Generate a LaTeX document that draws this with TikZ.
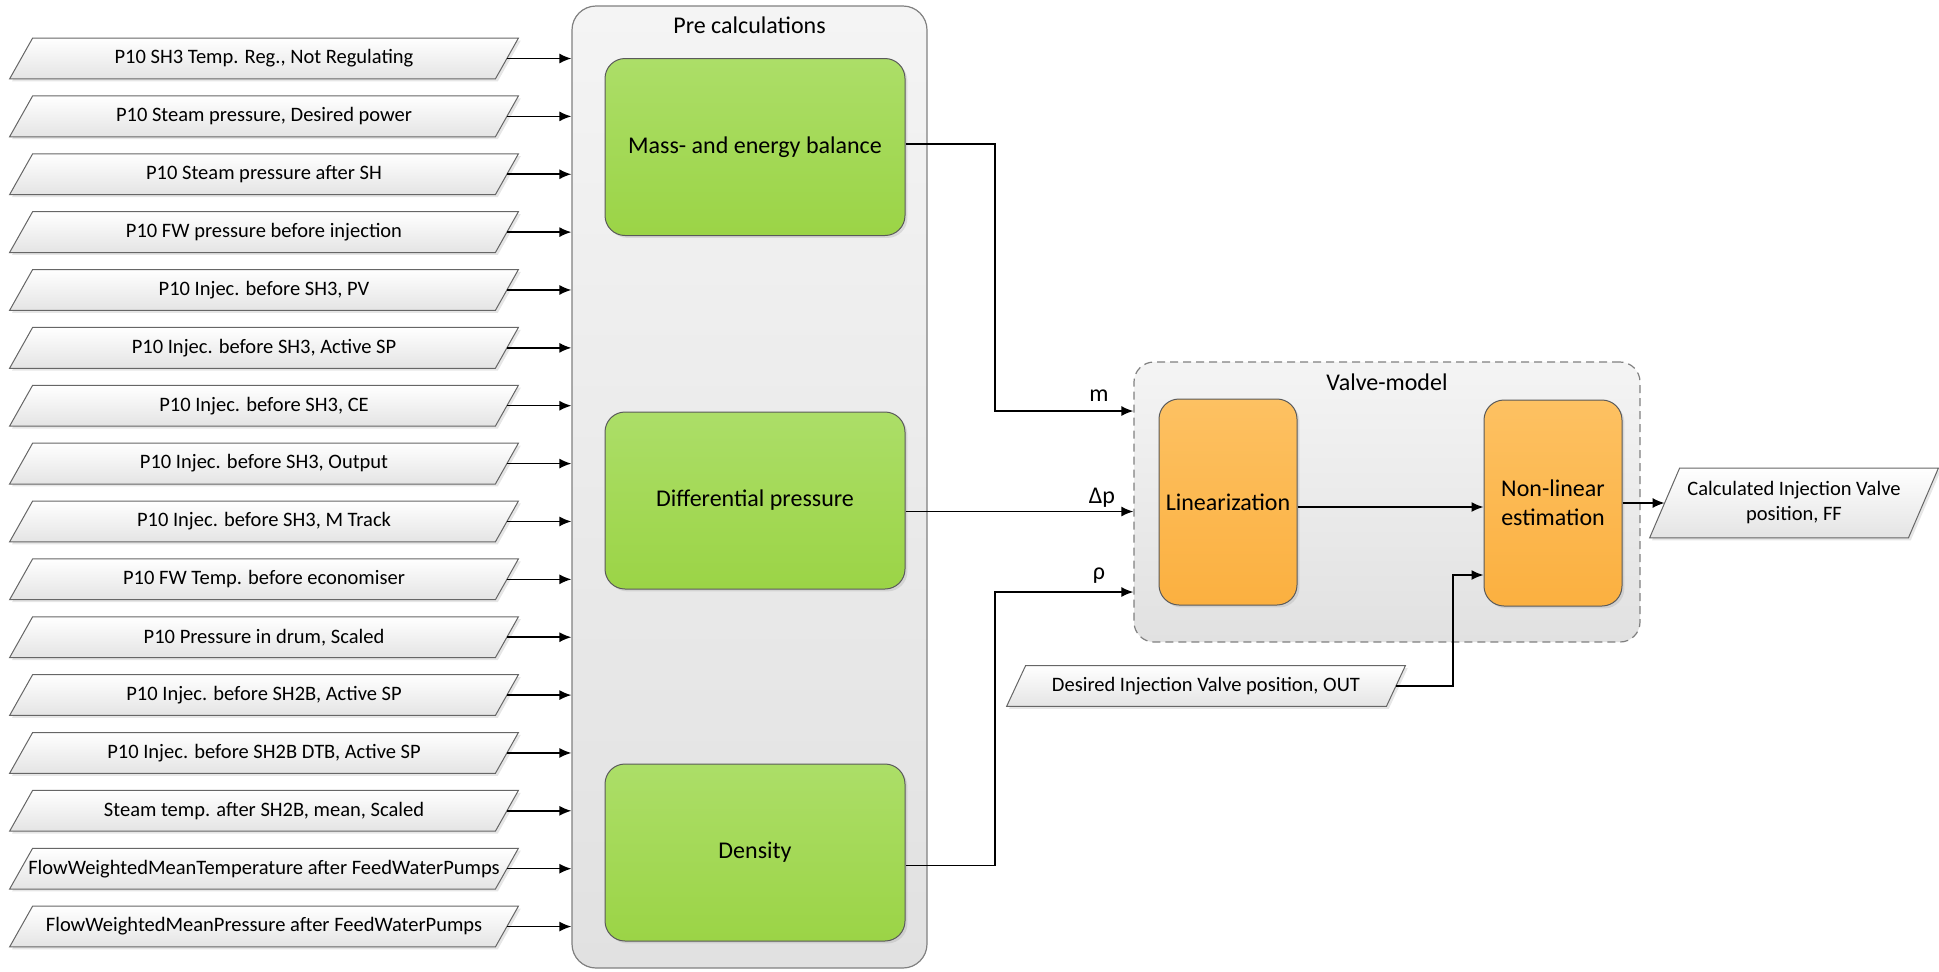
\documentclass[tikz,border=0pt]{standalone}
\usepackage{fontspec}
\setmainfont{Carlito}
\usetikzlibrary{arrows.meta,calc,shadows,backgrounds}
\definecolor{greenT}{RGB}{172,222,104}
\definecolor{greenB}{RGB}{155,212,70}
\definecolor{orangeT}{RGB}{253,193,98}
\definecolor{orangeB}{RGB}{251,176,64}
\definecolor{boxT}{RGB}{244,244,244}
\definecolor{boxB}{RGB}{225,225,225}
\definecolor{paraB}{RGB}{228,228,228}
\definecolor{edge}{RGB}{90,90,90}
\begin{document}
\begin{tikzpicture}[x=0.5pt,y=-0.5pt,
  arr/.style={draw=black, line width=0.75pt, -{Latex[length=6pt,width=5pt]}},
  bigbox/.style={draw=black!50, line width=0.6pt, rounded corners=12pt, top color=boxT, bottom color=boxB, inner sep=0pt},
  title/.style={font=\fontsize{12}{14}\selectfont, inner sep=0pt},
  gbox/.style={draw=edge, line width=0.5pt, rounded corners=10pt, top color=greenT, bottom color=greenB,
    minimum width=150pt, minimum height=88.5pt, inner sep=0pt, font=\fontsize{12}{14}\selectfont,
    drop shadow={shadow xshift=1.2pt, shadow yshift=-1.2pt, opacity=0.2}},
  obox/.style={draw=edge, line width=0.5pt, rounded corners=10pt, top color=orangeT, bottom color=orangeB,
    minimum width=69pt, minimum height=103pt, inner sep=0pt, align=center, font=\fontsize{12}{14.5}\selectfont,
    drop shadow={shadow xshift=1.2pt, shadow yshift=-1.2pt, opacity=0.2}},
  intext/.style={inner sep=0pt, font=\fontsize{10.25}{12.5}\selectfont, align=center},
  para/.style={draw=black!60, line width=0.5pt, top color=white, bottom color=paraB,
    drop shadow={shadow xshift=1.2pt, shadow yshift=-1.2pt, opacity=0.2}},
  lbl/.style={inner sep=0pt, anchor=base, font=\fontsize{12}{14}\selectfont}
]
\useasboundingbox (0,0) rectangle (1939,971);

% containers
\node[bigbox, minimum width=177.5pt, minimum height=481pt] (pre) at (749.5,487) {};
\node[title] (pretitle) at (749.5,25) {Pre calculations};
\node[bigbox, dashed, dash pattern=on 4pt off 2.5pt, rounded corners=10pt, minimum width=253pt, minimum height=140pt] (valve) at (1387,502) {};
\node[title] (valvetitle) at (1387,382) {Valve-model};

% green blocks
\node[gbox] (mass) at (755,147) {Mass- and energy balance};
\node[gbox] (diff) at (755,500.5) {Differential pressure};
\node[gbox] (dens) at (755,852.5) {Density};

% orange blocks
\node[obox] (lin) at (1228,502) {Linearization};
\node[obox] (nl) at (1553,503) {Non-linear\\estimation};

% inputs
\foreach \t [count=\i] in {
  {P10 SH3 Temp. Reg., Not Regulating},
  {P10 Steam pressure, Desired power},
  {P10 Steam pressure after SH},
  {P10 FW pressure before injection},
  {P10 Injec. before SH3, PV},
  {P10 Injec. before SH3, Active SP},
  {P10 Injec. before SH3, CE},
  {P10 Injec. before SH3, Output},
  {P10 Injec. before SH3, M Track},
  {P10 FW Temp. before economiser},
  {P10 Pressure in drum, Scaled},
  {P10 Injec. before SH2B, Active SP},
  {P10 Injec. before SH2B DTB, Active SP},
  {Steam temp. after SH2B, mean, Scaled},
  {FlowWeightedMeanTemperature after FeedWaterPumps},
  {FlowWeightedMeanPressure after FeedWaterPumps}} {
  \node[intext, minimum width=254pt, minimum height=20pt] (in\i) at (264,{58.5+(\i-1)*57.87}) {\t};
  \begin{pgfonlayer}{background}
    \path[para] (in\i.south west) -- ($(in\i.north west)+(23,0)$) -- (in\i.north east)
      -- ($(in\i.south east)+(-23,0)$) -- cycle;
  \end{pgfonlayer}
  \draw[arr] ($(in\i.east)+(-11.5,0)$) -- (pre.west |- in\i.east);
}

% desired input
\node[intext, minimum width=199pt, minimum height=20pt] (des) at (1206,686) {Desired Injection Valve position, OUT};
% output
\node[intext, minimum width=144pt, minimum height=34.5pt] (out) at (1794,503) {Calculated Injection Valve\\position, FF};
\begin{pgfonlayer}{background}
  \path[para] (des.south west) -- ($(des.north west)+(19,0)$) -- (des.north east)
    -- ($(des.south east)+(-19,0)$) -- cycle;
  \path[para] (out.south west) -- ($(out.north west)+(30,0)$) -- (out.north east)
    -- ($(out.south east)+(-30,0)$) -- cycle;
\end{pgfonlayer}

% connectors
\coordinate (mj) at (995,411);
\coordinate (rj) at (995,592);
\coordinate (dj) at (1453,575);
\draw[arr] ([yshift=1.5pt]mass.east) -| (mj) -- (valve.west |- mj);
\draw[arr] ([yshift=-5.5pt]diff.east) -- ([yshift=-5.5pt]diff.east -| valve.west);
\draw[arr] ([yshift=-6.5pt]dens.east) -| (rj) -- (valve.west |- rj);
\draw[arr] ([yshift=-2.5pt]lin.east) -- ([yshift=-2.5pt]lin.east -| nl.west);
\draw[arr] ($(des.east)+(-9.5,0)$) -| (dj) -- (nl.west |- dj);
\draw[arr] (nl.east) -- ($(out.west)+(15,0)$);

% labels
\node[lbl] (lm) at (1099,401) {m};
\node[lbl] (ldp) at (1102,503) {Δp};
\node[lbl] (lrho) at (1099,579) {ρ};
\end{tikzpicture}
\end{document}
